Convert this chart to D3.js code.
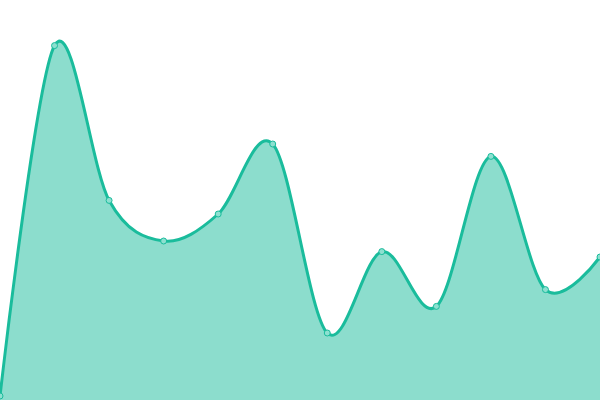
<!DOCTYPE html>
<html>
<head>
<meta charset="utf-8">
<script src="https://cdn.jsdelivr.net/npm/d3@7"></script>
<style>
  html, body { margin: 0; padding: 0; background: #fff; }
  svg { display: block; }
</style>
</head>
<body>
<div class="area-content"></div>
<script>
// series values, one per step (scale 0..100)
let values = [1, 88.6, 49.9, 39.75, 46.5, 64, 16.75, 37.1, 23.4, 60.9, 27.6, 35.75];
let yDomain = [0, 100];

let w = 600;
let h = 400;
let color = '#1abc9c';

let svg = d3.select('.area-content')
    .append('svg')
    .attr('width', w)
    .attr('height', h);

let x = d3.scaleLinear().domain([0, values.length - 1]).range([0, w]);
let y = d3.scaleLinear().domain(yDomain).range([h, 0]);

let area = d3.area()
    .x(function(d, i) {return x(i)})
    .y0(h)
    .y1(function(d) {return y(d)})
    .curve(d3.curveCardinal);

let line = d3.line()
    .x(function(d, i) {return x(i)})
    .y(function(d) {return y(d)})
    .curve(d3.curveCardinal);

svg.append('path')
    .datum(values)
    .attr('d', area)
    .attr('fill', color)
    .attr('fill-opacity', 0.5);

svg.append('path')
    .datum(values)
    .attr('d', line)
    .attr('fill', 'none')
    .attr('stroke', color)
    .attr('stroke-width', 3);

svg.selectAll('.dot')
    .data(values)
    .enter()
    .append('circle')
    .attr('class', 'dot')
    .attr('cx', function(d, i) {return x(i)})
    .attr('cy', function(d) {return y(d)})
    .attr('r', 3)
    .attr('fill', '#8de0d0')
    .attr('stroke', color)
    .attr('stroke-width', 1);
</script>
</body>
</html>
